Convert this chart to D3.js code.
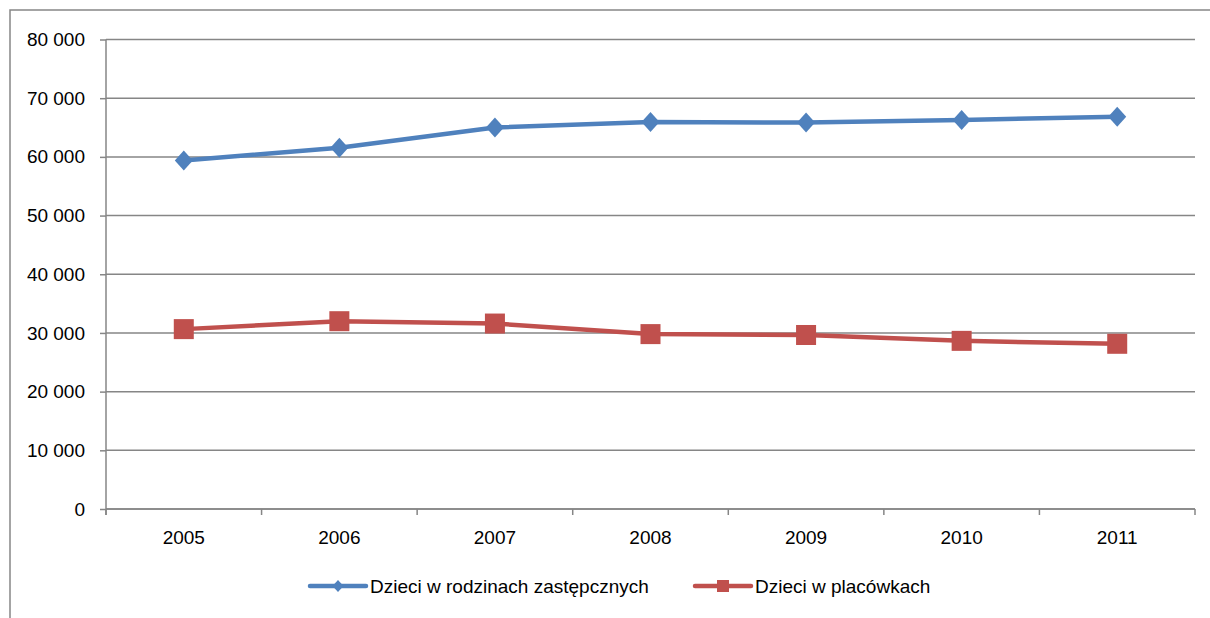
<!DOCTYPE html>
<html lang="pl">
<head>
<meta charset="UTF-8">
<title>Dzieci w pieczy zastępczej</title>
<style>
    * { margin: 0; padding: 0; }
    html, body { overflow: hidden; background: #fff; }
    text { font-family: "Liberation Sans", Arial, sans-serif; fill: #000; }
</style>
</head>
<body>
<div id="chart"></div>
<script src="https://cdn.jsdelivr.net/npm/d3@7"></script>
<script>
    const years = ['2005', '2006', '2007', '2008', '2009', '2010', '2011']
    const rodziny = [59400, 61550, 65000, 65950, 65850, 66300, 66850]
    const placowki = [30650, 32000, 31600, 29800, 29650, 28650, 28150]
    const yTicks = [0, 10000, 20000, 30000, 40000, 50000, 60000, 70000, 80000]
    const seriesNames = ['Dzieci w rodzinach zastępcznych', 'Dzieci w placówkach']

    function drawChart() {
        const width = 1210
        const height = 618
        const margin = { left: 106, right: 15, top: 39.5, bottom: 109 }
        const grey = '#868686'
        const colors = ['#4F81BD', '#C0504D']
        const fontSize = '19px'

        const svg = d3.select('#chart')
            .append('svg')
            .attr('width', width)
            .attr('height', height)

        // ramka wykresu
        svg.append('rect')
            .attr('x', 10)
            .attr('y', 10)
            .attr('width', width + 20)
            .attr('height', height + 20)
            .attr('fill', 'none')
            .attr('stroke', grey)
            .attr('stroke-width', 1.5)

        const x = d3.scaleBand()
            .domain(years)
            .range([margin.left, width - margin.right])

        const y = d3.scaleLinear()
            .domain([0, 80000])
            .range([height - margin.bottom, margin.top])

        const fmt = d3.formatLocale({ decimal: ',', thousands: ' ', grouping: [3], currency: ['', ''] }).format(',')

        // linie siatki
        svg.append('g')
            .selectAll('line')
            .data(yTicks)
            .join('line')
            .attr('x1', margin.left)
            .attr('x2', width - margin.right)
            .attr('y1', d => y(d))
            .attr('y2', d => y(d))
            .attr('stroke', grey)
            .attr('stroke-width', 1.5)

        // oś Y
        const yAxis = svg.append('g')
            .attr('transform', `translate(${margin.left},0)`)
            .call(d3.axisLeft(y).tickValues(yTicks).tickSize(6).tickPadding(15).tickFormat(fmt))
        yAxis.select('.domain')
            .attr('d', `M0,${y(80000)}V${y(0) + 6}`)
        yAxis.selectAll('path, line').attr('stroke', grey).attr('stroke-width', 1.5)
        yAxis.selectAll('text').style('font-size', fontSize)
            .attr('font-family', null)

        // oś X
        const xAxis = svg.append('g')
            .attr('transform', `translate(0,${y(0)})`)
        xAxis.append('line')
            .attr('x1', margin.left)
            .attr('x2', width - margin.right)
            .attr('stroke', grey)
            .attr('stroke-width', 1.5)
        const bounds = years.map(d => x(d)).concat([x(years[years.length - 1]) + x.bandwidth()])
        xAxis.selectAll('line.tick')
            .data(bounds)
            .join('line')
            .attr('class', 'tick')
            .attr('x1', d => d)
            .attr('x2', d => d)
            .attr('y1', 0)
            .attr('y2', 6)
            .attr('stroke', grey)
            .attr('stroke-width', 1.5)
        xAxis.selectAll('text')
            .data(years)
            .join('text')
            .attr('x', d => x(d) + x.bandwidth() / 2)
            .attr('y', 35)
            .attr('text-anchor', 'middle')
            .style('font-size', fontSize)
            .text(d => d)

        const cx = d => x(d) + x.bandwidth() / 2
        const line = d3.line()
            .x((d, i) => cx(years[i]))
            .y(d => y(d))

        const diamond = (w, h) => `M0,${-h}L${w},0L0,${h}L${-w},0Z`

        // seria 1 – rodziny zastępcze
        svg.append('path')
            .datum(rodziny)
            .attr('d', line)
            .attr('fill', 'none')
            .attr('stroke', colors[0])
            .attr('stroke-width', 4.5)
            .attr('stroke-linejoin', 'round')
        svg.append('g')
            .selectAll('path')
            .data(rodziny)
            .join('path')
            .attr('transform', (d, i) => `translate(${cx(years[i])},${y(d)})`)
            .attr('d', diamond(9, 10))
            .attr('fill', colors[0])

        // seria 2 – placówki
        svg.append('path')
            .datum(placowki)
            .attr('d', line)
            .attr('fill', 'none')
            .attr('stroke', colors[1])
            .attr('stroke-width', 4.5)
            .attr('stroke-linejoin', 'round')
        svg.append('g')
            .selectAll('rect')
            .data(placowki)
            .join('rect')
            .attr('x', (d, i) => cx(years[i]) - 10)
            .attr('y', d => y(d) - 10)
            .attr('width', 20)
            .attr('height', 20)
            .attr('fill', colors[1])

        // legenda
        const legendY = 586
        const items = [
            { x: 310, name: seriesNames[0], color: colors[0], marker: 'diamond' },
            { x: 695, name: seriesNames[1], color: colors[1], marker: 'square' }
        ]
        const legend = svg.append('g')
            .selectAll('g')
            .data(items)
            .join('g')
            .attr('transform', d => `translate(${d.x},${legendY})`)
        legend.append('line')
            .attr('x1', 0)
            .attr('x2', 56)
            .attr('stroke', d => d.color)
            .attr('stroke-width', 4.5)
            .attr('stroke-linecap', 'round')
        legend.filter(d => d.marker === 'diamond')
            .append('path')
            .attr('transform', 'translate(28,0)')
            .attr('d', diamond(5.5, 6))
            .attr('fill', d => d.color)
        legend.filter(d => d.marker === 'square')
            .append('rect')
            .attr('x', 22)
            .attr('y', -6)
            .attr('width', 12)
            .attr('height', 12)
            .attr('fill', d => d.color)
        legend.append('text')
            .attr('x', 60)
            .attr('dy', '0.35em')
            .style('font-size', fontSize)
            .text(d => d.name)
    }

    drawChart()
</script>
</body>
</html>
